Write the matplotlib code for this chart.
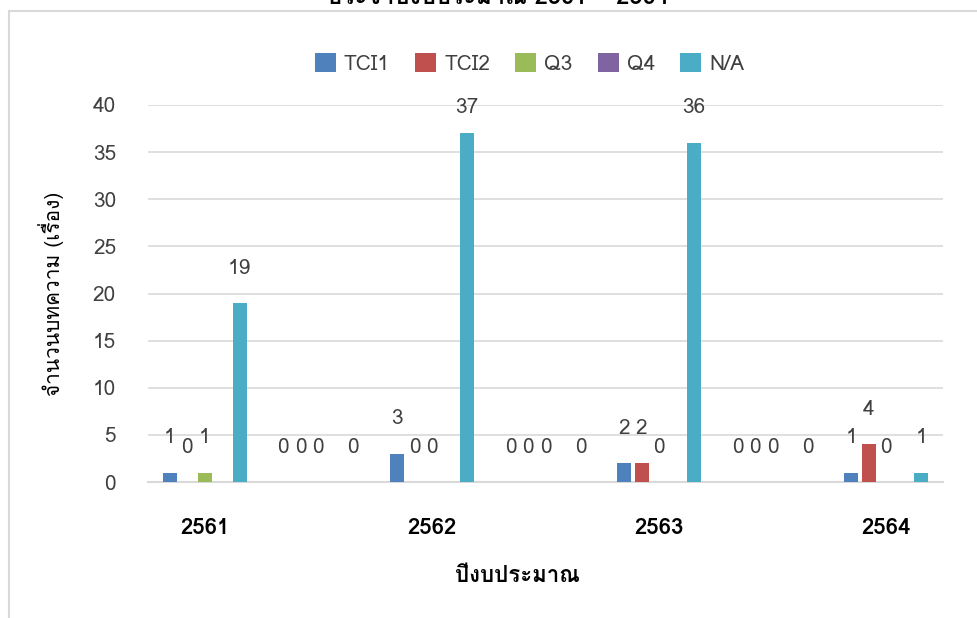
import matplotlib
matplotlib.use('Agg')
import matplotlib.pyplot as plt
from matplotlib import font_manager
from matplotlib.ft2font import FT2Font
from matplotlib.patches import Rectangle
import numpy as np

# ข้อมูล
categories = ['2561', '', '2562', '', '2563', '', '2564']
series_names = ['TCI1', 'TCI2', 'Q3', 'Q4', 'N/A']
tci1 = [1, 0, 3, 0, 2, 0, 1]
tci2 = [0, 0, 0, 0, 2, 0, 4]
q3 = [1, 0, 0, 0, 0, 0, 0]
q4 = [None, None, None, None, None, None, None]
na = [19, 0, 37, 0, 36, 0, 1]
colors = ['#4F81BD', '#C0504D', '#9BBB59', '#8064A2', '#4BACC6']

title = 'ประจำปีงบประมาณ 2561 – 2564'
xlabel = 'ปีงบประมาณ'
ylabel = 'จำนวนบทความ (เรื่อง)'


def find_thai_font():
    for f in font_manager.fontManager.ttflist:
        try:
            if 0x0E1B in FT2Font(f.fname).get_charmap():
                return f.name
        except Exception:
            pass
    return None


thai = find_thai_font()
fams = [thai, 'DejaVu Sans'] if thai else ['DejaVu Sans']
plt.rcParams['font.family'] = fams

fig = plt.figure(figsize=(9.77, 6.18), dpi=100)
ax = fig.add_axes([148 / 977, 1 - 482 / 618, (943 - 148) / 977, (482 - 105) / 618])

x = np.arange(len(categories))
slot = 0.154
width = 0.123
all_series = [tci1, tci2, q3, q4, na]
for i, (name, vals, c) in enumerate(zip(series_names, all_series, colors)):
    pos = x + (i - 2) * slot
    h = [0 if v is None else v for v in vals]
    ax.bar(pos, h, width=width, color=c, label=name, zorder=3)
    for p, v in zip(pos, vals):
        if v is None:
            continue
        ax.text(p, min(v + 3.7, 39.7), str(v), ha='center', va='center',
                fontsize=15, color='#404040')

ax.set_xlim(-0.5, len(categories) - 0.5)
ax.set_ylim(0, 40)
ax.set_yticks(range(0, 41, 5))
ax.set_xticks(x)
ax.set_xticklabels(categories, fontsize=16, fontweight='bold')
ax.tick_params(axis='both', length=0)
ax.tick_params(axis='x', pad=26)
ax.tick_params(axis='y', labelsize=15, labelcolor='#404040', pad=23)
ax.grid(axis='y', color='#D9D9D9', lw=1.2, zorder=0)
for s in ['top', 'right', 'left']:
    ax.spines[s].set_visible(False)
ax.spines['bottom'].set_color('#D9D9D9')
ax.spines['bottom'].set_linewidth(1.5)

ax.set_xlabel(xlabel, fontsize=16, fontweight='bold')
ax.xaxis.set_label_coords(0.465, -0.222)
ax.set_ylabel(ylabel, fontsize=15, labelpad=21)

ax.legend(loc='center', bbox_to_anchor=(0.48, 1.11), ncol=5, frameon=False,
          fontsize=15, handlelength=1.0, handleheight=1.0, handletextpad=0.4,
          columnspacing=1.2, labelcolor='#404040')

fig.text(0.51, 1 - 4 / 618, title, ha='center', va='baseline', fontsize=17,
         fontweight='bold')
fig.patches.append(Rectangle((9 / 977, -0.1), 1.2, 1.1 - 11 / 618,
                             transform=fig.transFigure, fill=False,
                             edgecolor='#D9D9D9', lw=1.5))

fig.savefig('out.png', dpi=100)
